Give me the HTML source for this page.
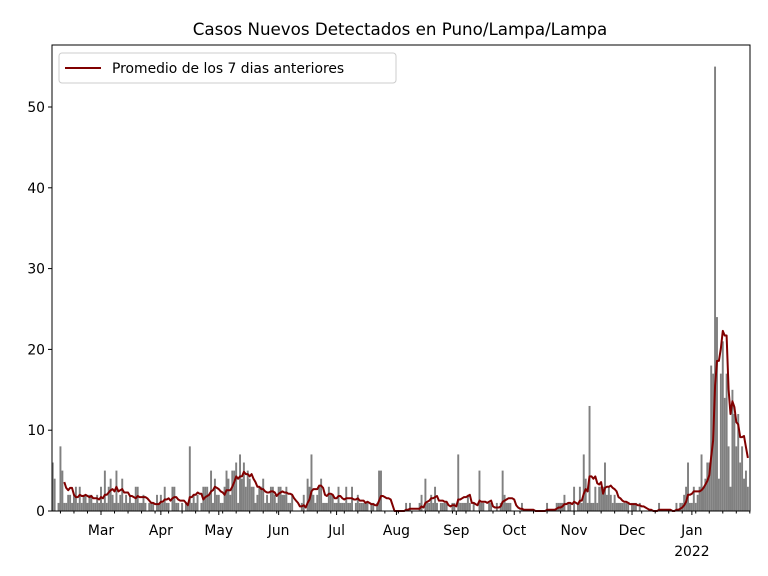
<!DOCTYPE html>
<html><head><meta charset="utf-8"><style>
body{margin:0;background:#fff;}
svg{display:block;font-family:"DejaVu Sans","Liberation Sans",sans-serif;}
</style></head><body>
<svg id="chart" width="768" height="576" viewBox="0 0 768 576" xmlns="http://www.w3.org/2000/svg">
<rect x="0" y="0" width="768" height="576" fill="#fff"/>
<text x="400" y="35" font-size="16.7" text-anchor="middle" fill="#000">Casos Nuevos Detectados en Puno/Lampa/Lampa</text>
<g id="bars"></g>
<polyline id="avgline" fill="none" stroke="#800000" stroke-width="2" stroke-linejoin="round"/>
<g id="axes"></g>
<rect x="52" y="45" width="698" height="466" fill="none" stroke="#000" stroke-width="1"/>
<g>
<rect x="59" y="53" width="337" height="30" rx="3" fill="#fff" stroke="#ccc"/>
<line x1="65" y1="68" x2="101" y2="68" stroke="#800000" stroke-width="2"/>
<text x="112" y="73" font-size="13.9" fill="#000">Promedio de los 7 dias anteriores</text>
</g>
</svg>
<script>
const cases = [
6,4,0,1,8,5,1,1,2,2,1,2,3,1,3,1,2,2,1,2,2,1,1,2,1,
3,1,5,1,3,4,2,1,5,1,2,4,1,2,1,2,1,1,3,3,1,1,2,1,0,1,1,1,0,2,1,
2,1,3,1,1,0,3,3,1,1,0,1,0,1,1,8,1,2,1,2,0,1,3,3,3,2,5,1,4,2,
2,1,1,3,5,4,2,5,5,6,1,7,4,6,3,5,4,3,3,1,2,3,3,4,1,2,1,3,3,2,1,
3,3,2,2,3,1,1,2,0,0,0,0,1,2,0,4,3,7,2,1,2,3,4,1,1,1,3,2,2,1,
1,3,1,1,1,3,1,1,3,0,1,2,1,1,1,1,1,0,1,1,0,1,5,5,0,0,0,0,0,0,0,
0,0,0,0,0,1,0,1,0,0,0,0,1,2,0,4,1,1,2,1,3,1,0,1,1,1,1,0,0,1,1,
0,7,1,1,1,1,2,1,0,1,0,0,5,1,1,0,0,1,1,0,0,1,0,1,5,2,1,1,1,0,
0,0,0,0,1,0,0,0,0,0,0,0,0,0,0,0,0,1,0,0,0,0,1,1,1,1,2,0,1,1,0,
3,0,1,3,1,7,4,1,13,1,1,3,1,3,3,3,6,2,3,2,1,2,1,1,1,1,1,1,1,0,
1,1,1,0,1,0,0,0,0,0,0,0,0,0,1,0,0,0,0,0,0,0,0,1,0,1,1,2,3,6,1,
1,3,1,2,3,7,3,4,6,6,18,17,55,24,4,17,21,14,17,8,3,15,12,8,12,6,8,4,5,3
];
const yTicks = [0,10,20,30,40,50];
const monthLabels = ["Mar","Apr","May","Jun","Jul","Aug","Sep","Oct","Nov","Dec","Jan"];
const monthDays = [25,56,86,117,147,178,209,239,270,300,331];
const NS="http://www.w3.org/2000/svg";
const X0=52,X1=750,Y0=511;
function xs(d){return 101+(d-25)*1.931;}
function ys(v){return Y0-v*8.08;}
const bars=document.getElementById('bars');
cases.forEach((v,i)=>{
  if(v<=0)return;
  const r=document.createElementNS(NS,'rect');
  
  
  r.setAttribute('x',xs(i)-0.97);r.setAttribute('width',1.93);
  r.setAttribute('y',ys(v));r.setAttribute('height',Y0-ys(v));
  r.setAttribute('fill','#808080');
  bars.appendChild(r);
});
const pts=[];
for(let i=6;i<cases.length;i++){
  let s=0;for(let k=i-6;k<=i;k++)s+=cases[k];
  pts.push(xs(i).toFixed(1)+','+ys(s/7).toFixed(1));
}
document.getElementById('avgline').setAttribute('points',pts.join(' '));
const ax=document.getElementById('axes');
function add(tag,attrs,txt){const e=document.createElementNS(NS,tag);for(const k in attrs)e.setAttribute(k,attrs[k]);if(txt!==undefined)e.textContent=txt;ax.appendChild(e);return e;}
yTicks.forEach(t=>{
  add('line',{x1:X0-4,x2:X0,y1:ys(t),y2:ys(t),stroke:'#000',});
  add('text',{x:X0-7,y:ys(t)+5,'font-size':13.9,'text-anchor':'end',},String(t));
});
for(let d=4;d<cases.length+2;d+=7){
  add('line',{x1:xs(d),x2:xs(d),y1:Y0,y2:Y0+2.5,stroke:'#000',});
}
monthLabels.forEach((m,i)=>{
  const x=xs(monthDays[i]);
  add('line',{x1:x,x2:x,y1:Y0,y2:Y0+4,stroke:'#000',});
  add('text',{x:x,y:Y0+24,'font-size':13.9,'text-anchor':'middle',},m);
});
add('text',{x:xs(331),y:Y0+45,'font-size':13.9,'text-anchor':'middle',},'2022');
</script>
</body></html>
